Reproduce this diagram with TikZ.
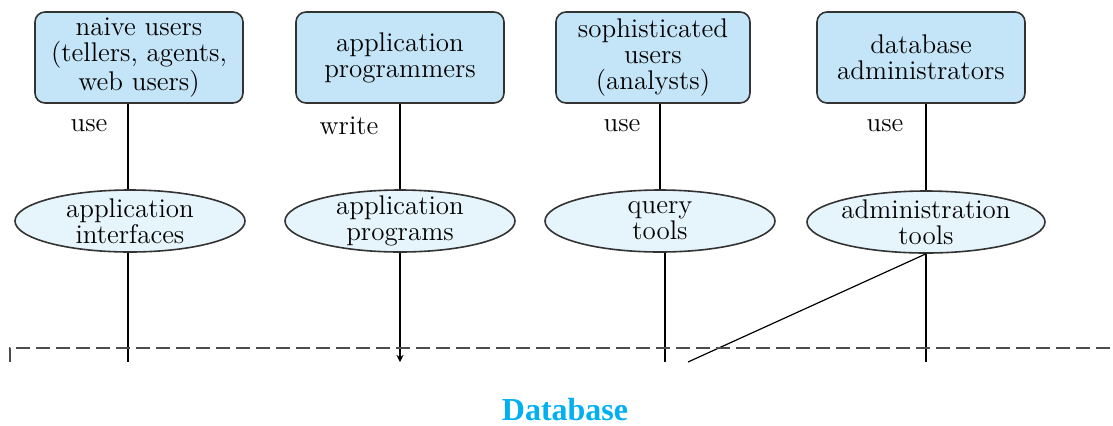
\documentclass[tikz,border=0pt]{standalone}
\usepackage{fontspec}
\newfontfamily\dbfont{Liberation Serif}
\usetikzlibrary{shapes}

\definecolor{boxblue}{RGB}{196,228,247}
\definecolor{ovalblue}{RGB}{230,244,252}
\definecolor{dbblue}{RGB}{0,176,240}

\begin{document}
\begin{tikzpicture}[
    x=0.5pt, y=-0.5pt,
    text centered,
    font=\fontsize{13.5}{13}\selectfont,
	user/.style={
	  rectangle,
	  rounded corners=5pt,
	  minimum width=104pt,
	  minimum height=45.5pt,
	  inner sep=1pt,
	  thick,
	  draw=black!80,
	  fill=boxblue
	},
	oval/.style={
	  ellipse,
	  minimum width=115pt,
	  minimum height=31pt,
	  inner xsep=-4pt,
	  inner ysep=-5pt,
	  thick,
	  draw=black!80,
	  fill=ovalblue
	},
	verb/.style={inner sep=0pt},
 	line/.style={draw, semithick},
 	arrow/.style={draw, semithick, ->, >=stealth}
	]
	\useasboundingbox (0,0) rectangle (1113,425);
	% users
	\node at (139, 57.5) [user, align=center] (naive) {naive users\\(tellers, agents,\\web users)};
	\node at (400, 57.5) [user, align=center] (progr) {application\\programmers};
	\node at (653, 57.5) [user, minimum width=97pt, align=center] (soph) {sophisticated\\users\\(analysts)};
	\node at (921, 57.5) [user, align=center] (dba) {database\\administrators};
	% tools
	\node at (130, 221) [oval, align=center] (iface) {application\\interfaces};
	\node at (400, 221) [oval, align=center] (prog) {application\\programs};
	\node at (660, 221) [oval, align=center] (query) {query\\tools};
	\node at (926, 222) [oval, minimum width=119pt, align=center] (admin) {administration\\tools};
	% labels
	\node at (89, 126) [verb] (use1) {use};
	\node at (349, 126) [verb] (write) {write};
	\node at (622, 126) [verb] (use2) {use};
	\node at (885, 126) [verb] (use3) {use};
	% bottom ends
	\coordinate (e1) at (128, 362);
	\coordinate (e2) at (400, 362);
	\coordinate (e3) at (665, 362);
	\coordinate (e4) at (926, 362);
	\coordinate (e5) at (688, 362);
	\path [line] (naive.south -| e1) -- (iface.north -| e1);
	\path [line] (progr.south) -- (prog.north);
	\path [line] (soph.south -| query.north) -- (query.north);
	\path [line] (dba.south -| e4) -- (admin.north);
	\path [line] (iface.south -| e1) -- (e1);
	\path [arrow] (prog.south) -- (e2);
	\path [line] (query.south -| e3) -- (e3);
	\path [line] (admin.south) -- (e4);
	\path [line] (admin.south) -- (e5);
	% database
	\draw [black!70, line width=1pt, dash pattern=on 7pt off 3pt] (10, 362) -- (10, 348) -- (1113, 348);
	\node at (565, 410) [inner sep=0pt, text=dbblue, font=\dbfont\bfseries\fontsize{16}{16}\selectfont] (db) {Database};
\end{tikzpicture}
\end{document}
